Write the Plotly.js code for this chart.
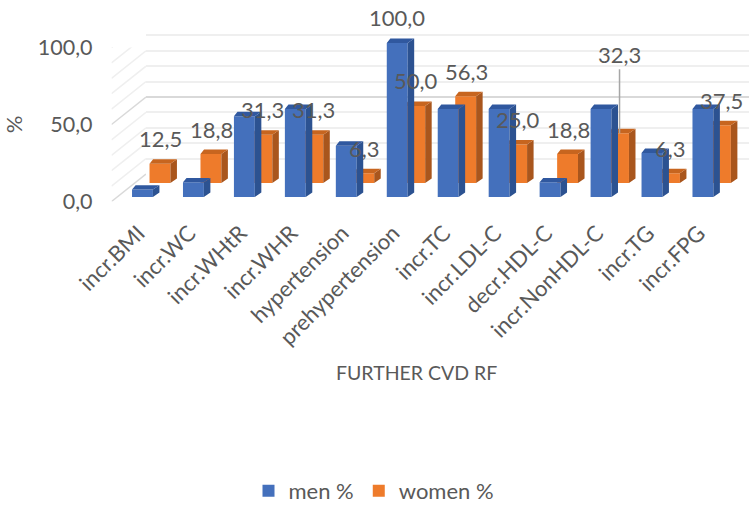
<!DOCTYPE html>
<html>
<head>
<meta charset="utf-8">
<script src="https://cdn.plot.ly/plotly-3.0.1.min.js"></script>
<style>html,body{margin:0;padding:0;background:#fff}</style>
</head>
<body>
<div id="chart" style="width:749px;height:506px"></div>
<script>
// Risk factors and the share of men and women affected, in percent
const categories = ["incr.BMI","incr.WC","incr.WHtR","incr.WHR","hypertension","prehypertension","incr.TC","incr.LDL-C","decr.HDL-C","incr.NonHDL-C","incr.TG","incr.FPG"];
const menValues = [4.8, 9.5, 52.4, 57.1, 33.3, 100.0, 57.1, 57.1, 9.5, 57.1, 28.6, 57.1];
const womenValues = [12.5, 18.8, 31.3, 31.3, 6.3, 50.0, 56.3, 25.0, 18.8, 32.3, 6.3, 37.5];
const menLabelled = [5];
const leaderLabelled = [9];
const gridMajor = [0, 50, 100];
const gridMinor = [10, 20, 30, 40, 60, 70, 80, 90];
const categoryTitle = "FURTHER CVD RF";

const W = 749, H = 506;
const PX_PER_PERCENT = 1.54, PITCH = 50.95, BAR_WIDTH = 0.41;
const DEPTH_X = 0.128, DEPTH_Y = 2.9, TOP_SKEW = 0.07;
const TEXT = "#595959", FONT = "Lato, 'Open Sans', sans-serif";

const colors = {
  men: {front: "#4470BC", side: "#2C5291", top: "#30589F"},
  women: {front: "#EE7B2B", side: "#A9561D", top: "#C7651F"}
};

const domX = (a, b) => [a / W, b / W];
const domY = (bottom, top) => [(H - bottom) / H, (H - top) / H];
const hidden = {visible: false, fixedrange: true};

// Polygons for the receding faces of each bar, in the bar's own axis units
function topFaces(values) {
  const xs = [], ys = [];
  values.forEach((v, i) => {
    const l = i - BAR_WIDTH / 2, r = i + BAR_WIDTH / 2;
    xs.push(l, r, r + DEPTH_X, l + TOP_SKEW, l, null);
    ys.push(v, v, v + DEPTH_Y, v + DEPTH_Y, v, null);
  });
  return {x: xs, y: ys};
}
function sideFaces(values) {
  const xs = [], ys = [];
  values.forEach((v, i) => {
    const r = i + BAR_WIDTH / 2;
    xs.push(r, r + DEPTH_X, r + DEPTH_X, r, r, null);
    ys.push(0, DEPTH_Y, v + DEPTH_Y, v, 0, null);
  });
  return {x: xs, y: ys};
}
function face(poly, color, xa, ya) {
  return {type: "scatter", mode: "lines", x: poly.x, y: poly.y, xaxis: xa, yaxis: ya,
    fill: "toself", fillcolor: color, line: {width: 0}, showlegend: false, hoverinfo: "skip", cliponaxis: false};
}

// Slanted grid lines on the left wall, running from the front plane to the back wall
const SIDE_RISE = 17.86;
function wallLines(levels, color, width) {
  const xs = [], ys = [];
  levels.forEach(v => { xs.push(0, 1, null); ys.push(v, v + SIDE_RISE, null); });
  return {type: "scatter", mode: "lines", x: xs, y: ys, xaxis: "x2", yaxis: "y2",
    line: {color: color, width: width}, showlegend: false, hoverinfo: "skip", cliponaxis: false};
}

const idx = categories.map((_, i) => i);
const bar = (name, values, c, xa, ya) => ({type: "bar", name: name, x: idx, y: values, width: BAR_WIDTH,
  xaxis: xa, yaxis: ya, marker: {color: c.front, line: {width: 0}}, hoverinfo: "y"});

const data = [
  bar("men %", menValues, colors.men, "x4", "y4"),
  bar("women %", womenValues, colors.women, "x3", "y3"),
  // the back wall subplot only shows its grid
  {type: "scatter", mode: "none", x: [0, 1], y: [0, 100], xaxis: "x", yaxis: "y", showlegend: false, hoverinfo: "skip"},
  wallLines(gridMinor, "#EFEFEF", 1.5),
  wallLines(gridMajor, "#D9D9D9", 1.5),
  face(sideFaces(womenValues), colors.women.side, "x3", "y3"),
  face(topFaces(womenValues), colors.women.top, "x3", "y3"),
  face(sideFaces(menValues), colors.men.side, "x4", "y4"),
  face(topFaces(menValues), colors.men.top, "x4", "y4")
];

const fmt = v => v.toFixed(1).replace(".", ",");
const labelFont = {family: FONT, size: 22, color: TEXT};
const LIFT = 25;
const annotations = womenValues.map((v, i) => {
  const leader = leaderLabelled.includes(i);
  return {x: i, y: v, xref: "x3", yref: "y3", text: fmt(v), font: labelFont, xshift: 1,
    showarrow: leader, arrowhead: 0, arrowwidth: 1.5, arrowcolor: "#A6A6A6", ax: 0, ay: leader ? -79 : 0,
    yshift: leader ? 0 : LIFT, yanchor: leader ? "auto" : "middle"};
}).concat(menLabelled.map(i => ({x: i, y: menValues[i], xref: "x4", yref: "y4", text: fmt(menValues[i]),
  font: labelFont, showarrow: false, yshift: LIFT + 1, yanchor: "middle"})));
// Category axis title, centred under the front plane
annotations.push({xref: "paper", yref: "paper", x: 416 / W, y: (H - 372) / H, xanchor: "center", yanchor: "middle",
  text: categoryTitle, showarrow: false, font: {family: FONT, size: 19.5, color: TEXT}});

const fullRange = [-0.5, categories.length - 0.5];
const layout = {
  width: W, height: H, autosize: false,
  margin: {l: 0, r: 0, t: 0, b: 0, pad: 0, autoexpand: false},
  paper_bgcolor: "#fff", plot_bgcolor: "rgba(0,0,0,0)",
  separators: ", ",
  barmode: "overlay",
  font: {family: FONT, color: TEXT},
  // back wall
  xaxis: {domain: domX(146, W), range: [0, 1], anchor: "y", showgrid: false, showticklabels: false, zeroline: false, ticks: "", showline: false},
  yaxis: {domain: domY(174, 20), range: [0, 100], anchor: "x", tickvals: gridMajor, showticklabels: false, ticks: "",
    showline: false, zeroline: false, showgrid: true, gridcolor: "#D9D9D9", gridwidth: 2,
    minor: {tickvals: gridMinor, showgrid: true, gridcolor: "#EFEFEF", gridwidth: 2, ticks: ""}},
  // left wall: its axis is the front edge, the slanted lines rise above it to the back wall
  xaxis2: Object.assign({domain: domX(111.5, 146), range: [0, 1], anchor: "y2"}, hidden),
  yaxis2: {domain: domY(201.5, 201.5 - PX_PER_PERCENT * 100), range: [0, 100], anchor: "x2", tickvals: gridMajor, tickformat: ".1f",
    showgrid: false, zeroline: false, showline: false, ticks: "", ticklabelstandoff: 18,
    tickfont: {family: FONT, size: 21.5, color: TEXT},
    title: {text: "%", font: {family: FONT, size: 22, color: TEXT}, standoff: 9}},
  // women's row sits behind the men's row
  xaxis3: Object.assign({domain: domX(134.5, 134.5 + PITCH * 12), range: fullRange, anchor: "y3"}, hidden),
  yaxis3: Object.assign({domain: domY(183, 183 - PX_PER_PERCENT * 115), range: [0, 115], anchor: "x3"}, hidden),
  // men's row, carrying the category labels
  xaxis4: {domain: domX(117, 117 + PITCH * 12), range: fullRange, anchor: "y4", tickvals: idx, ticktext: categories,
    tickangle: -45, showgrid: false, zeroline: false, showline: false, ticks: "", ticklabelstandoff: 18, ticklabelshift: -4,
    tickfont: {family: FONT, size: 22, color: TEXT}},
  yaxis4: Object.assign({domain: domY(197, 197 - PX_PER_PERCENT * 115), range: [0, 115], anchor: "x4"}, hidden),
  legend: {orientation: "h", x: 374 / W, xanchor: "center", y: -6 / H, yanchor: "bottom",
    font: {family: FONT, size: 22, color: TEXT}, traceorder: "normal", bgcolor: "rgba(0,0,0,0)"},
  annotations: annotations
};

Plotly.newPlot("chart", data, layout, {displayModeBar: false, responsive: false});
</script>
</body>
</html>
